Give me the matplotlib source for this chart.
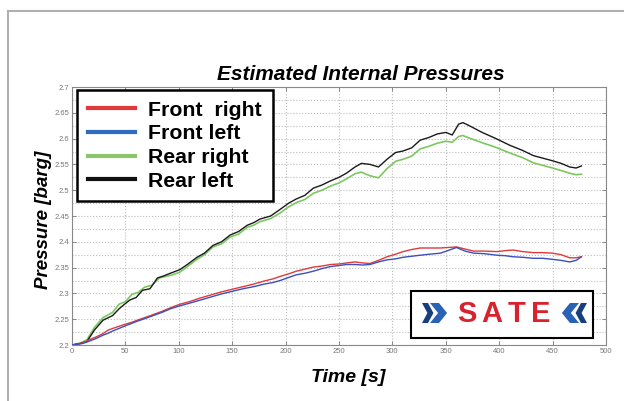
import numpy as np
import matplotlib.pyplot as plt
from matplotlib.lines import Line2D
from matplotlib.patches import Rectangle, Polygon

plt.rcParams['font.family'] = ['Liberation Sans', 'DejaVu Sans']

# Rear left (black)
t_rl = [0, 8, 14, 21, 29, 38, 44, 48, 54, 60, 66, 73, 80, 86, 92, 101, 108, 117, 124, 132,
        140, 148, 156, 164, 170, 176, 186, 195, 203, 210, 218, 226, 234, 242, 250, 257, 265,
        271, 279, 287, 295, 303, 310, 318, 326, 334, 342, 350, 356, 362, 366, 372, 384, 397,
        410, 422, 432, 441, 450, 458, 466, 472, 477]
p_rl = [2.200, 2.203, 2.207, 2.229, 2.248, 2.257, 2.270, 2.277, 2.287, 2.292, 2.306, 2.309,
        2.330, 2.334, 2.339, 2.346, 2.356, 2.370, 2.378, 2.393, 2.400, 2.413, 2.420, 2.432,
        2.437, 2.444, 2.450, 2.463, 2.475, 2.483, 2.490, 2.504, 2.510, 2.518, 2.525, 2.533,
        2.545, 2.552, 2.550, 2.545, 2.560, 2.573, 2.576, 2.582, 2.597, 2.602, 2.609, 2.612,
        2.607, 2.628, 2.631, 2.625, 2.612, 2.600, 2.587, 2.577, 2.567, 2.562, 2.557, 2.552,
        2.545, 2.543, 2.547]

# Rear right (green)
t_rr = [0, 8, 14, 21, 29, 38, 44, 50, 56, 62, 68, 75, 82, 88, 94, 101, 108, 117, 124, 132,
        140, 148, 156, 164, 170, 176, 186, 195, 203, 210, 218, 226, 234, 242, 250, 257, 265,
        271, 279, 287, 295, 303, 310, 318, 326, 334, 342, 350, 356, 362, 366, 372, 384, 397,
        410, 422, 432, 441, 450, 458, 466, 472, 477]
p_rr = [2.200, 2.204, 2.210, 2.234, 2.253, 2.263, 2.279, 2.284, 2.298, 2.302, 2.312, 2.316,
        2.330, 2.333, 2.336, 2.341, 2.352, 2.366, 2.375, 2.390, 2.396, 2.409, 2.415, 2.428,
        2.432, 2.439, 2.445, 2.456, 2.468, 2.476, 2.482, 2.494, 2.500, 2.508, 2.514, 2.522,
        2.532, 2.535, 2.528, 2.524, 2.542, 2.556, 2.560, 2.566, 2.580, 2.585, 2.591, 2.595,
        2.593, 2.604, 2.606, 2.601, 2.592, 2.583, 2.572, 2.563, 2.553, 2.548, 2.543, 2.538,
        2.533, 2.530, 2.531]

# Front right (red) and front left (blue) share time samples
t_f = [0, 10, 17, 23, 29, 34, 38, 45, 51, 56, 61, 68, 76, 84, 92, 101, 110, 120, 130, 140,
       150, 160, 170, 180, 188, 195, 203, 210, 218, 226, 234, 242, 250, 257, 265, 272, 279,
       287, 295, 303, 310, 318, 326, 335, 345, 352, 360, 368, 376, 386, 398, 406, 413, 422,
       432, 441, 450, 458, 466, 472, 477]
p_fr = [2.200, 2.204, 2.211, 2.216, 2.222, 2.229, 2.232, 2.237, 2.241, 2.244, 2.248, 2.253,
        2.259, 2.265, 2.272, 2.279, 2.284, 2.291, 2.297, 2.303, 2.308, 2.313, 2.318, 2.324,
        2.328, 2.333, 2.338, 2.343, 2.347, 2.351, 2.353, 2.356, 2.357, 2.359, 2.361, 2.359,
        2.358, 2.364, 2.371, 2.376, 2.381, 2.385, 2.388, 2.388, 2.388, 2.389, 2.390, 2.386,
        2.382, 2.382, 2.381, 2.383, 2.384, 2.381, 2.379, 2.379, 2.378, 2.375, 2.369, 2.369,
        2.371]
p_fl = [2.200, 2.203, 2.208, 2.213, 2.219, 2.223, 2.227, 2.233, 2.238, 2.242, 2.246, 2.251,
        2.257, 2.263, 2.270, 2.276, 2.281, 2.287, 2.293, 2.299, 2.304, 2.309, 2.313, 2.318,
        2.321, 2.325, 2.331, 2.336, 2.339, 2.343, 2.348, 2.352, 2.354, 2.356, 2.356, 2.355,
        2.356, 2.361, 2.365, 2.367, 2.370, 2.372, 2.374, 2.376, 2.378, 2.383, 2.389, 2.382,
        2.378, 2.377, 2.374, 2.373, 2.371, 2.370, 2.368, 2.368, 2.366, 2.364, 2.361, 2.364,
        2.371]

labels = ['Front  right', 'Front left', 'Rear right', 'Rear left']
colors = ['#e03a3a', '#3a4fc0', '#7cc860', '#1a1a1a']

W, H = 624, 401
fig = plt.figure(figsize=(W / 100, H / 100), dpi=100)
fig.patch.set_facecolor('white')


def fx(px):
    return px / W


def fy(py):
    return (H - py) / H


ax = fig.add_axes([fx(72), fy(345), (606 - 72) / W, (345 - 87) / H])

ax.plot(t_f, p_fr, color=colors[0], lw=1.0, zorder=3)
ax.plot(t_f, p_fl, color=colors[1], lw=1.0, zorder=3)
ax.plot(t_rr, p_rr, color=colors[2], lw=1.2, zorder=2)
ax.plot(t_rl, p_rl, color=colors[3], lw=1.0, zorder=2)

ax.set_xlim(0, 500)
ax.set_ylim(2.2, 2.7)
ax.set_xticks(np.arange(0, 501, 50))
ax.set_yticks(np.arange(2.2, 2.701, 0.05))
ax.set_yticks(np.arange(2.2, 2.701, 0.025), minor=True)
ax.set_yticklabels(['%g' % round(v, 2) for v in np.arange(2.2, 2.701, 0.05)])
ax.tick_params(which='major', direction='in', length=3, width=0.6, color='#777',
               labelsize=5.5, labelcolor='#777', top=True, right=True, pad=2)
ax.tick_params(which='minor', length=0)
ax.grid(which='major', axis='x', linestyle=':', color='#bbbbbb', lw=0.8)
ax.grid(which='both', axis='y', linestyle=':', color='#bbbbbb', lw=0.8)
for s in ax.spines.values():
    s.set_color('#888888')
    s.set_linewidth(0.8)

ax.set_title('Estimated Internal Pressures', fontsize=15, fontweight='bold',
             fontstyle='italic', pad=5, x=0.54)
ax.set_xlabel('Time [s]', fontsize=14, fontweight='bold', fontstyle='italic')
ax.xaxis.set_label_coords(0.517, -0.093)
ax.set_ylabel('Pressure [barg]', fontsize=13.5, fontweight='bold', fontstyle='italic')
ax.yaxis.set_label_coords(-0.0375, 0.484)

handles = [Line2D([], [], color=c, lw=3) for c in ['#e03a3a', '#2f6bc0', '#8cc56a', '#111111']]
leg = ax.legend(handles, labels,
                loc='upper left', bbox_to_anchor=(0.0094, 0.988), borderaxespad=0,
                prop={'weight': 'bold', 'size': 15.3}, frameon=True,
                fancybox=False, handlelength=2.25, handletextpad=0.6, labelspacing=0.22,
                borderpad=0.5)
leg.get_frame().set_edgecolor('black')
leg.get_frame().set_linewidth(1.8)
leg.get_frame().set_alpha(1)

# SATE logo
fig.add_artist(Rectangle((fx(411), fy(338)), (593 - 411) / W, (338 - 291) / H,
                         transform=fig.transFigure, facecolor='white', edgecolor='black',
                         lw=1.5, zorder=5))


def chevron(x0, y0, w, h, right=True, color='#1f5aa8'):
    pts = [(0, 0), (0.45, 0.5), (0, 1), (0.5, 1), (0.95, 0.5), (0.5, 0)]
    if not right:
        pts = [(1 - a, b) for a, b in pts]
    poly = [(fx(x0 + a * w), fy(y0 + b * h)) for a, b in pts]
    fig.add_artist(Polygon(poly, closed=True, transform=fig.transFigure,
                           facecolor=color, edgecolor='none', zorder=6))


chevron(422, 303, 12, 20, True, '#173f80')
chevron(430, 303, 18, 20, True, '#2a63b5')
chevron(575, 303, 12, 20, False, '#173f80')
chevron(561, 303, 18, 20, False, '#2a63b5')
for ch, cx in zip('SATE', [467, 492, 517, 541]):
    fig.text(fx(cx), fy(313.5), ch, color='#d8222e', fontsize=21, fontweight='bold',
             ha='center', va='center', zorder=7)

# page border lines
fig.add_artist(Line2D([fx(8), 1], [fy(11), fy(11)], color='#b0b0b0', lw=1.5,
                      transform=fig.transFigure))
fig.add_artist(Line2D([fx(8), fx(8)], [fy(11), 0], color='#b0b0b0', lw=1.5,
                      transform=fig.transFigure))

fig.savefig('out.png', dpi=100)
